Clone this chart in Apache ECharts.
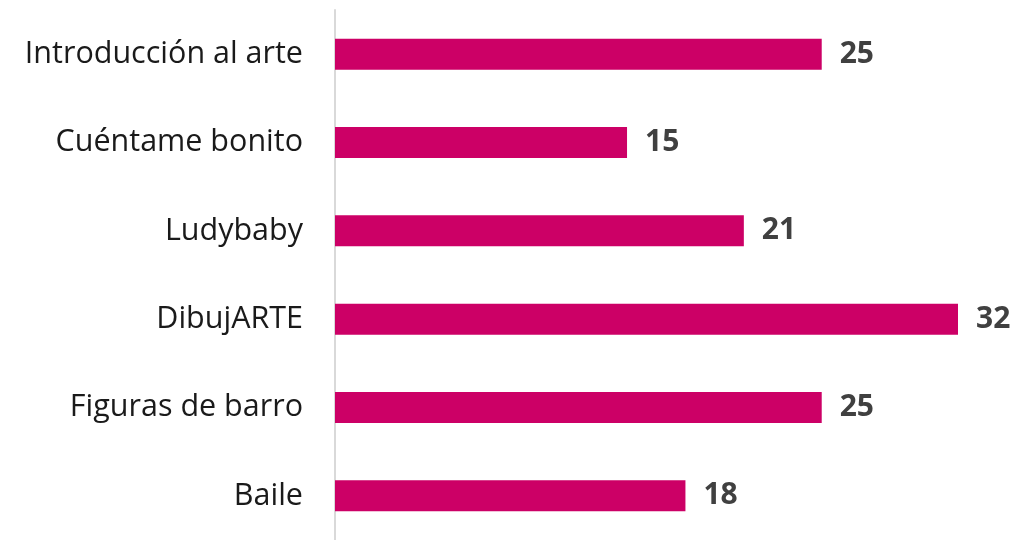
<!DOCTYPE html>
<html>
<head>
<meta charset="utf-8">
<script src="https://cdn.jsdelivr.net/npm/echarts@6/dist/echarts.min.js"></script>
<style>
  html, body { margin: 0; padding: 0; background: #fff; }
  #chart { width: 1035px; height: 540px; }
</style>
</head>
<body>
<div id="chart"></div>
<script>
// categorias de arriba hacia abajo
const categories = ["Introducción al arte", "Cuéntame bonito", "Ludybaby", "DibujARTE", "Figuras de barro", "Baile"];
const values = [25, 15, 21, 32, 25, 18];

const chart = echarts.init(document.getElementById("chart"));

chart.setOption({
  animation: false,
  grid: { left: 335, top: 10, width: 623, height: 533, containLabel: false },
  xAxis: {
    type: "value",
    min: 0,
    max: 32,
    show: false
  },
  yAxis: {
    type: "category",
    inverse: true,
    data: categories,
    axisLine: { show: true, lineStyle: { color: "#d9d9d9", width: 2 } },
    axisTick: { show: false },
    axisLabel: {
      color: "#1a1a1a",
      fontSize: 30.5,
      fontFamily: "Open Sans",
      margin: 32
    }
  },
  series: [{
    type: "bar",
    data: values,
    barWidth: 31,
    itemStyle: { color: "#CC0066" },
    label: {
      show: true,
      position: "right",
      distance: 18,
      color: "#404040",
      fontSize: 30,
      fontWeight: "bold",
      fontFamily: "Open Sans"
    }
  }]
});
</script>
</body>
</html>
